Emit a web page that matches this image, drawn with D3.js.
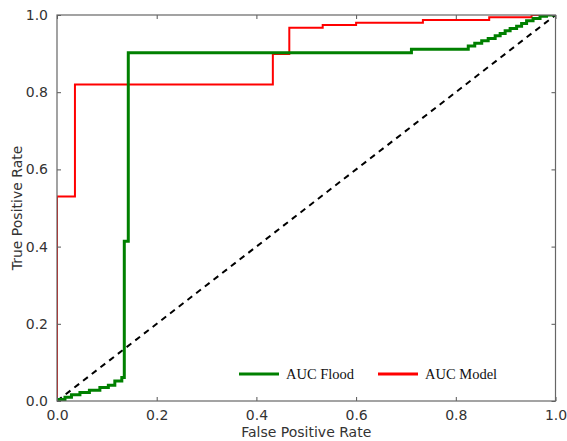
<!DOCTYPE html>
<html>
<head>
<meta charset="utf-8">
<script src="https://cdn.jsdelivr.net/npm/d3@7"></script>
<style>
  body { margin: 0; background: #fff; }
  svg { display: block; }
</style>
</head>
<body>
<script>
// ROC curves: step points (fpr, tpr), drawn as step-after
const floodFpr = [0, 0.016, 0.029, 0.046, 0.065, 0.086, 0.103, 0.116, 0.130, 0.135, 0.135, 0.143,
  0.711, 0.825, 0.838, 0.852, 0.865, 0.879, 0.889, 0.899, 0.909, 0.922, 0.932, 0.942, 0.955, 0.969, 0.982, 0.992, 1.0];
const floodTpr = [0.004, 0.010, 0.016, 0.022, 0.028, 0.035, 0.041, 0.052, 0.061, 0.061, 0.414, 0.902,
  0.911, 0.920, 0.927, 0.933, 0.939, 0.946, 0.952, 0.959, 0.965, 0.971, 0.978, 0.985, 0.991, 0.997, 1.0, 1.0, 1.0];
const modelFpr = [0, 0, 0.036, 0.433, 0.466, 0.533, 0.600, 0.734, 0.867, 0.952, 1.0];
const modelTpr = [0, 0.53, 0.82, 0.899, 0.967, 0.974, 0.98, 0.987, 0.994, 1.0, 1.0];
const chanceLine = [0, 1];
const ticks = [0, 0.2, 0.4, 0.6, 0.8, 1.0];
const legendItems = [
  { label: "AUC Flood", color: "green" },
  { label: "AUC Model", color: "red" }
];

const W = 567, H = 441;
const margin = { top: 15, right: 11.5, bottom: 40, left: 57 };
const pw = W - margin.left - margin.right;
const ph = H - margin.top - margin.bottom;

const x = d3.scaleLinear().domain([0, 1]).range([0, pw]);
const y = d3.scaleLinear().domain([0, 1]).range([ph, 0]);

const svg = d3.select("body").append("svg").attr("width", W).attr("height", H);
const g = svg.append("g").attr("transform", `translate(${margin.left},${margin.top})`);

svg.append("defs").append("clipPath").attr("id", "plot-clip")
  .append("rect").attr("width", pw).attr("height", ph);

const line = d3.line().x(d => x(d[0])).y(d => y(d[1]));
const stepLine = d3.line().x(d => x(d[0])).y(d => y(d[1])).curve(d3.curveStepAfter);
const plot = g.append("g").attr("clip-path", "url(#plot-clip)");

plot.append("path")
  .datum(chanceLine.map(v => [v, v]))
  .attr("d", line).attr("fill", "none")
  .attr("stroke", "#000").attr("stroke-width", 2).attr("stroke-dasharray", "6,5");

plot.append("path")
  .datum(modelFpr.map((v, i) => [v, modelTpr[i]]))
  .attr("d", stepLine).attr("fill", "none")
  .attr("stroke", "red").attr("stroke-width", 2);

plot.append("path")
  .datum(floodFpr.map((v, i) => [v, floodTpr[i]]))
  .attr("d", stepLine).attr("fill", "none")
  .attr("stroke", "green").attr("stroke-width", 3);

// axes with inward ticks on all four sides
const tickFmt = d3.format(".1f");
function styleAxis(sel) {
  sel.select(".domain").remove();
  sel.selectAll(".tick line").attr("stroke", "#555");
  sel.selectAll(".tick text").attr("fill", "#333")
    .style("font-family", "DejaVu Sans").style("font-size", "14px");
}
g.append("g").attr("transform", `translate(0,${ph})`)
  .call(d3.axisBottom(x).tickValues(ticks).tickFormat(tickFmt).tickSizeInner(-4).tickPadding(9))
  .call(styleAxis);
g.append("g")
  .call(d3.axisLeft(y).tickValues(ticks).tickFormat(tickFmt).tickSizeInner(-4).tickPadding(9))
  .call(styleAxis);
g.append("g")
  .call(d3.axisTop(x).tickValues(ticks).tickSizeInner(-4).tickFormat(""))
  .call(styleAxis);
g.append("g").attr("transform", `translate(${pw},0)`)
  .call(d3.axisRight(y).tickValues(ticks).tickSizeInner(-4).tickFormat(""))
  .call(styleAxis);

g.append("rect").attr("width", pw).attr("height", ph)
  .attr("fill", "none").attr("stroke", "#666").attr("stroke-width", 1.2);

// axis labels
svg.append("text")
  .attr("x", margin.left + pw / 2).attr("y", 437)
  .attr("text-anchor", "middle")
  .style("font-family", "DejaVu Sans").style("font-size", "14px").attr("fill", "#333")
  .text("False Positive Rate");
svg.append("text")
  .attr("transform", `translate(22,${margin.top + ph / 2}) rotate(-90)`)
  .attr("text-anchor", "middle")
  .style("font-family", "DejaVu Sans").style("font-size", "14px").attr("fill", "#333")
  .text("True Positive Rate");

// legend (no frame)
const legend = svg.append("g").attr("transform", "translate(239,374)");
const item = legend.selectAll("g").data(legendItems).join("g")
  .attr("transform", (d, i) => `translate(${i * 139},0)`);
item.append("line").attr("x1", 0).attr("x2", 40)
  .attr("stroke", d => d.color).attr("stroke-width", 3);
item.append("text").attr("x", 47).attr("y", 5)
  .style("font-family", "Liberation Serif").style("font-size", "14.5px").attr("fill", "#111")
  .text(d => d.label);
</script>
</body>
</html>
